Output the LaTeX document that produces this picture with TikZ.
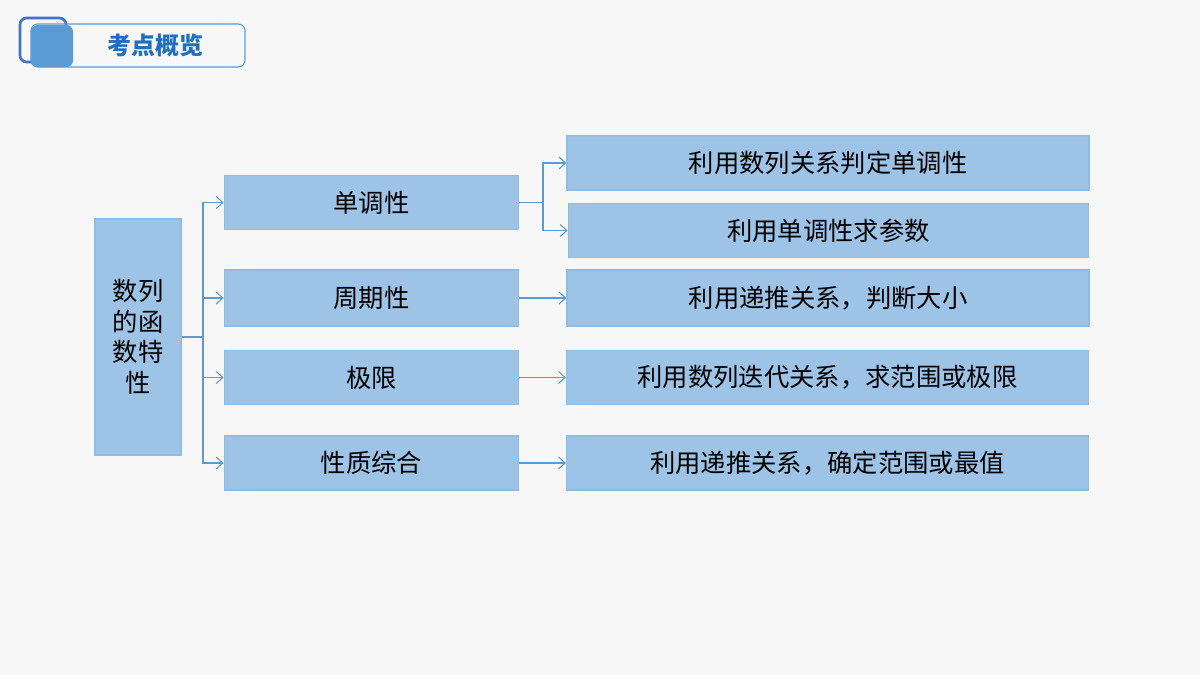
\documentclass[tikz,border=0pt]{standalone}
\usepackage{fontspec}
\setmainfont{Noto Sans CJK SC}
\usetikzlibrary{arrows.meta}
\definecolor{boxblue}{HTML}{9DC3E6}
\definecolor{lineblue}{HTML}{5B9BD5}
\definecolor{titleblue}{HTML}{1F6FC0}
\definecolor{darkblue}{HTML}{4472C4}
\tikzset{
    box/.style={draw=boxblue!80!lineblue,fill=boxblue,line width=0.8pt,inner sep=0pt,font=\fontsize{19}{23}\selectfont},
    link/.style={lineblue,line width=0.8pt,-{Straight Barb[length=5pt,width=9pt]}},
}
\begin{document}
\begin{tikzpicture}[x=0.75pt,y=-0.75pt]
    \fill[gray!6] (0,0) rectangle (1200,675);
    \useasboundingbox (0,0) rectangle (1200,675);
    % title
    \draw[darkblue,line width=2pt,rounded corners=5pt] (20,18) rectangle (66,62);
    \draw[lineblue,line width=0.8pt,rounded corners=5pt] (31,24) rectangle (245,67);
    \fill[lineblue,rounded corners=5pt] (31,25) rectangle (73,67);
    \node[titleblue,font=\bfseries\fontsize{18}{22}\selectfont] (title) at (155,45) {考点概览};
    % boxes
    \node[box,minimum width=64.5pt,minimum height=177pt,align=center] (root) at (138,337) {数列\\的函\\数特\\性};
    \node[box,minimum width=221pt,minimum height=41pt] (m1) at (371.5,202.5) {单调性};
    \node[box,minimum width=221pt,minimum height=42pt] (m2) at (371.5,298) {周期性};
    \node[box,minimum width=221pt,minimum height=41pt] (m3) at (371.5,377.5) {极限};
    \node[box,minimum width=221pt,minimum height=40.5pt] (m4) at (371.5,463) {性质综合};
    \node[box,minimum width=391.5pt,minimum height=40.5pt] (r1) at (828,163) {利用数列关系判定单调性};
    \node[box,minimum width=390.5pt,minimum height=41pt] (r2) at (828.5,230.5) {利用单调性求参数};
    \node[box,minimum width=391.5pt,minimum height=42pt] (r3) at (828,298) {利用递推关系，判断大小};
    \node[box,minimum width=391.5pt,minimum height=41pt] (r4) at (827.5,377.5) {利用数列迭代关系，求范围或极限};
    \node[box,minimum width=391.5pt,minimum height=40.5pt] (r5) at (827.5,463) {利用递推关系，确定范围或最值};
    % connectors
    \coordinate (bus) at (203,337);
    \draw[lineblue,line width=0.8pt] (root.east) -- (bus);
    \foreach \m in {m1,m2,m3,m4}
        \draw[link] (bus) |- (\m.west);
    \coordinate (bus2) at (543,202.5);
    \draw[lineblue,line width=0.8pt] (m1.east) -- (bus2);
    \draw[link] (bus2) |- (r1.west);
    \draw[link] (bus2) |- (r2.west);
    \draw[link] (m2) -- (r3);
    \draw[link] (m3) -- (r4);
    \draw[link] (m4) -- (r5);
\end{tikzpicture}
\end{document}
